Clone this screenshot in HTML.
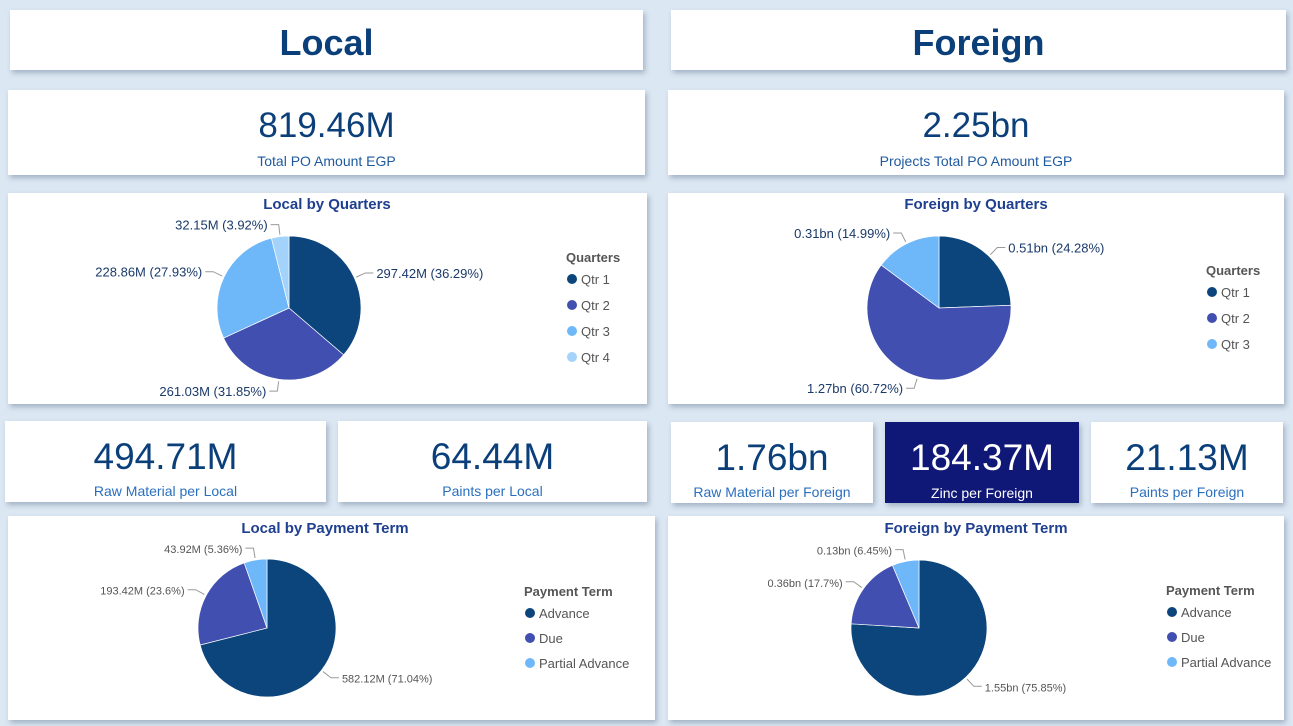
<!DOCTYPE html>
<html><head><meta charset="utf-8">
<style>
body{margin:0;width:1293px;height:726px;background:#dbe7f3;overflow:hidden;font-family:"Liberation Sans",sans-serif;position:relative}
.card{position:absolute;background:#fff;box-shadow:2px 3px 5px rgba(60,80,110,.35)}
.big{color:#0b3f7a;text-align:center;position:absolute;left:0;right:0}
.lbl{color:#2a6fbf;font-size:14px;text-align:center;position:absolute;left:0;right:0}
svg{position:absolute;left:0;top:0}
</style></head><body>
<div class="card" style="left:10px;top:10px;width:633px;height:60px"><div class="big" style="top:12px;font-size:36px;font-weight:bold">Local</div></div>
<div class="card" style="left:671px;top:10px;width:615px;height:60px"><div class="big" style="top:12px;font-size:36px;font-weight:bold">Foreign</div></div>

<div class="card" style="left:8px;top:90px;width:637px;height:85px"><div class="big" style="top:16px;font-size:35px">819.46M</div><div class="lbl" style="top:63px;color:#1f5aa0">Total PO Amount EGP</div></div>
<div class="card" style="left:668px;top:90px;width:616px;height:85px"><div class="big" style="top:16px;font-size:35px">2.25bn</div><div class="lbl" style="top:63px;color:#1f5aa0">Projects Total PO Amount EGP</div></div>

<div class="card" style="left:8px;top:193px;width:639px;height:211px"></div>
<div class="card" style="left:668px;top:193px;width:616px;height:211px"></div>

<div class="card" style="left:5px;top:421px;width:321px;height:81px"><div class="big" style="top:15px;font-size:37px">494.71M</div><div class="lbl" style="top:62px">Raw Material per Local</div></div>
<div class="card" style="left:338px;top:421px;width:309px;height:81px"><div class="big" style="top:15px;font-size:37px">64.44M</div><div class="lbl" style="top:62px">Paints per Local</div></div>
<div class="card" style="left:671px;top:422px;width:202px;height:81px"><div class="big" style="top:15px;font-size:37px">1.76bn</div><div class="lbl" style="top:62px">Raw Material per Foreign</div></div>
<div class="card" style="left:885px;top:422px;width:194px;height:81px;background:#101877"><div class="big" style="top:15px;font-size:37px;color:#fff">184.37M</div><div class="lbl" style="top:63px;color:#fff">Zinc per Foreign</div></div>
<div class="card" style="left:1091px;top:422px;width:192px;height:81px"><div class="big" style="top:15px;font-size:37px">21.13M</div><div class="lbl" style="top:62px">Paints per Foreign</div></div>

<div class="card" style="left:8px;top:516px;width:647px;height:204px"></div>
<div class="card" style="left:668px;top:516px;width:616px;height:204px"></div>

<svg id="s" width="1293" height="726"></svg>
<script>
const quarterNames=["Qtr 1","Qtr 2","Qtr 3","Qtr 4"];
const localQuarterValues=[297.42,261.03,228.86,32.15];
const localQuarterLabels=["297.42M (36.29%)","261.03M (31.85%)","228.86M (27.93%)","32.15M (3.92%)"];
const foreignQuarterNames=["Qtr 1","Qtr 2","Qtr 3"];
const foreignQuarterValues=[0.51,1.27,0.31];
const foreignQuarterLabels=["0.51bn (24.28%)","1.27bn (60.72%)","0.31bn (14.99%)"];
const paymentNames=["Advance","Due","Partial Advance"];
const localPaymentValues=[582.12,193.42,43.92];
const localPaymentLabels=["582.12M (71.04%)","193.42M (23.6%)","43.92M (5.36%)"];
const foreignPaymentValues=[1.55,0.36,0.13];
const foreignPaymentLabels=["1.55bn (75.85%)","0.36bn (17.7%)","0.13bn (6.45%)"];
const colors=["#0b457c","#4150b0","#6eb8fa","#a3d2fb"];
const NS="http://www.w3.org/2000/svg",S=document.getElementById('s');
function mk(t,a,txt){const e=document.createElementNS(NS,t);for(const k in a)e.setAttribute(k,a[k]);if(txt!=null)e.textContent=txt;S.appendChild(e);return e;}
function pie(cfg){
  const t=mk('text',{x:cfg.tx,y:cfg.ty,'text-anchor':'middle','font-size':15,'font-weight':'bold',fill:'#1f3f8f'},cfg.title);
  
  
  const tot=cfg.values.reduce((a,b)=>a+b,0);let a0=0;
  cfg.values.forEach((v,i)=>{
    const a1=a0+v/tot*2*Math.PI;
    const P=(a,r)=>[cfg.cx+r*Math.sin(a),cfg.cy-r*Math.cos(a)];
    const p0=P(a0,cfg.r),p1=P(a1,cfg.r),large=(a1-a0)>Math.PI?1:0;
    const s=mk('path',{d:`M${cfg.cx},${cfg.cy}L${p0[0]},${p0[1]}A${cfg.r},${cfg.r} 0 ${large} 1 ${p1[0]},${p1[1]}Z`,fill:colors[i],stroke:'#fff','stroke-width':0.7});
    
    
    const m=(a0+a1)/2,e1=P(m,cfg.r+2),e2=P(m,cfg.r+12),right=Math.sin(m)>=0;
    const e3=[e2[0]+(right?8:-8),e2[1]];
    mk('polyline',{points:`${e1} ${e2} ${e3}`,fill:'none',stroke:'#999','stroke-width':1});
    const l=mk('text',{x:e3[0]+(right?3:-3),y:e3[1]+5,'text-anchor':right?'start':'end','font-size':cfg.lfs,fill:cfg.lcol},cfg.labels[i]);
    
    
    a0=a1;
  });
  const lt=mk('text',{x:cfg.lx,y:cfg.ly,'font-size':13,'font-weight':'bold',fill:'#555'},cfg.legendTitle);
  
  
  cfg.names.forEach((n,i)=>{
    const y=cfg.ly+22+i*cfg.ls;
    mk('circle',{cx:cfg.lx+6,cy:y-5,r:5,fill:colors[i]});
    const e=mk('text',{x:cfg.lx+15,y:y,'font-size':13,fill:'#555'},n);
    
    
  });
}
pie({id:'local-quarters',title:'Local by Quarters',tx:327,ty:209,cx:289,cy:308,r:72,values:localQuarterValues,labels:localQuarterLabels,names:quarterNames,legendTitle:'Quarters',lx:566,ly:262,ls:26,lfs:13,lcol:'#1a3a6a'});
pie({id:'foreign-quarters',title:'Foreign by Quarters',tx:976,ty:209,cx:939,cy:308,r:72,values:foreignQuarterValues,labels:foreignQuarterLabels,names:foreignQuarterNames,legendTitle:'Quarters',lx:1206,ly:275,ls:26,lfs:13,lcol:'#1a3a6a'});
pie({id:'local-payment',title:'Local by Payment Term',tx:325,ty:533,cx:267,cy:628,r:69,values:localPaymentValues,labels:localPaymentLabels,names:paymentNames,legendTitle:'Payment Term',lx:524,ly:596,ls:25,lfs:11,lcol:'#555'});
pie({id:'foreign-payment',title:'Foreign by Payment Term',tx:976,ty:533,cx:919,cy:628,r:68,values:foreignPaymentValues,labels:foreignPaymentLabels,names:paymentNames,legendTitle:'Payment Term',lx:1166,ly:595,ls:25,lfs:11,lcol:'#555'});
</script>
</body></html>
